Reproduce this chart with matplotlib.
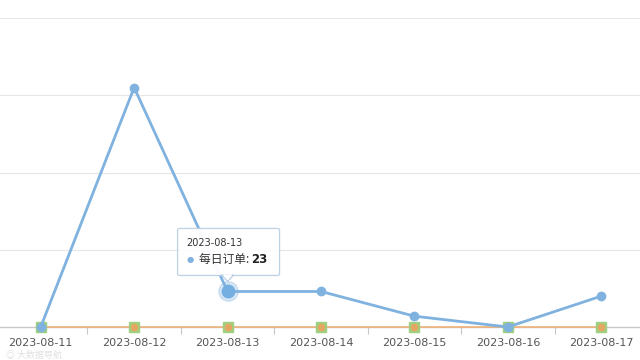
import matplotlib
matplotlib.use("Agg")
import matplotlib.pyplot as plt
from matplotlib.patches import FancyBboxPatch, Polygon
import numpy as np

plt.rcParams['font.family'] = ['Noto Sans CJK SC', 'DejaVu Sans']

dates = ["2023-08-11", "2023-08-12", "2023-08-13", "2023-08-14",
         "2023-08-15", "2023-08-16", "2023-08-17"]
orders = [0, 155, 23, 23, 7, 0, 20]
series_b = [0, 0, 0, 0, 0, 0, 0]
series_c = [0, 0, 0, 0, 0, 0, 0]
yticks = [0, 50, 100, 150, 200]
hl_index = 2
series_name = "每日订单"

W, H = 640, 360
fig = plt.figure(figsize=(W / 100, H / 100), dpi=100)
ax = fig.add_axes([-6 / W, 1 - 327 / H, 654 / W, (327 - 18) / H])
x = np.arange(len(dates))

ax.set_xlim(-0.5, len(dates) - 0.5)
ax.set_ylim(0, 200)
ax.set_yticks(yticks)
ax.yaxis.set_visible(False)
for v in yticks[1:]:
    ax.axhline(v, color="#e6e6e6", lw=0.8, zorder=0)
for s in ["top", "right", "left"]:
    ax.spines[s].set_visible(False)
ax.spines["bottom"].set_color("#c8c8c8")
ax.spines["bottom"].set_linewidth(1.0)

ax.set_xticks(x)
ax.set_xticklabels(dates, fontsize=8, color="#555555", family=['DejaVu Sans'])
ax.tick_params(axis="x", which="major", length=0, pad=8)
ax.set_xticks(x[:-1] + 0.5, minor=True)
ax.tick_params(axis="x", which="minor", length=5, color="#c8c8c8", width=0.8)

blue = "#7fb2df"
ax.plot(x, series_c, color="#f0b27a", lw=1.2, zorder=3, clip_on=False)
ax.plot(x, series_b, ls="none", marker="s", ms=6.5, color="#9fd07f", zorder=4, clip_on=False)
ax.plot(x, series_c, ls="none", marker="o", ms=4.5, color="#f0a060", alpha=0.85, zorder=5, clip_on=False)
ax.plot(x, orders, color=blue, lw=2.0, marker="o", ms=6, mfc=blue, mec=blue, zorder=6, clip_on=False)

# highlighted point with halo
ax.plot([x[hl_index]], [orders[hl_index]], marker="o", ms=14, color=blue, alpha=0.3, zorder=7)
ax.plot([x[hl_index]], [orders[hl_index]], marker="o", ms=9, color="#75aee0", zorder=8)

# tooltip
fig.canvas.draw()
px, py = ax.transData.transform((x[hl_index], orders[hl_index]))
inv = fig.transFigure.inverted()
def fp(dx, dy):
    return inv.transform((px + dx, py + dy))

bx0, by0 = fp(-50, 16)
bx1, by1 = fp(52, 63)
box = FancyBboxPatch((bx0, by0), bx1 - bx0, by1 - by0,
                     boxstyle="round,pad=0,rounding_size=0.004",
                     transform=fig.transFigure, facecolor="white", edgecolor="#b9cfe3",
                     lw=0.9, alpha=0.95, zorder=20)
fig.add_artist(box)
tri = Polygon([fp(-6, 16.5), fp(6, 16.5), fp(0, 10)], closed=True,
              transform=fig.transFigure, facecolor="white", edgecolor="#b9cfe3", lw=0.9, zorder=21)
fig.add_artist(tri)
cover = Polygon([fp(-5, 17.2), fp(5, 17.2), fp(0, 11.5)], closed=True,
                transform=fig.transFigure, facecolor="white", edgecolor="none", zorder=22)
fig.add_artist(cover)

tx, ty = fp(-41, 48)
fig.text(tx, ty, dates[hl_index], fontsize=7, color="#333333", va="center", ha="left",
         family=['DejaVu Sans'], zorder=23)
dx, dy = fp(-37, 32)
fig.text(dx, dy, "●", fontsize=6, color=blue, va="center", ha="center", zorder=23,
         family=['DejaVu Sans'])
lx, ly = fp(-29, 32)
t1 = fig.text(lx, ly, series_name + ": ", fontsize=8.5, color="#333333", va="center",
              ha="left", zorder=23)
fig.canvas.draw()
bb = t1.get_window_extent()
vx = inv.transform((bb.x1, 0))[0]
fig.text(vx, ly, str(orders[hl_index]), fontsize=8.5, color="#222222", va="center",
         ha="left", weight="bold", zorder=23, family=['DejaVu Sans'])

# faint watermark
fig.text(6 / W, 1 - 355 / H, "◎ 大数据导航", fontsize=6.5, color="#cccccc", alpha=0.6,
         va="center", ha="left", zorder=0, family=['Noto Sans CJK SC', 'DejaVu Sans'])

fig.savefig("out.png", dpi=100, facecolor="white")
